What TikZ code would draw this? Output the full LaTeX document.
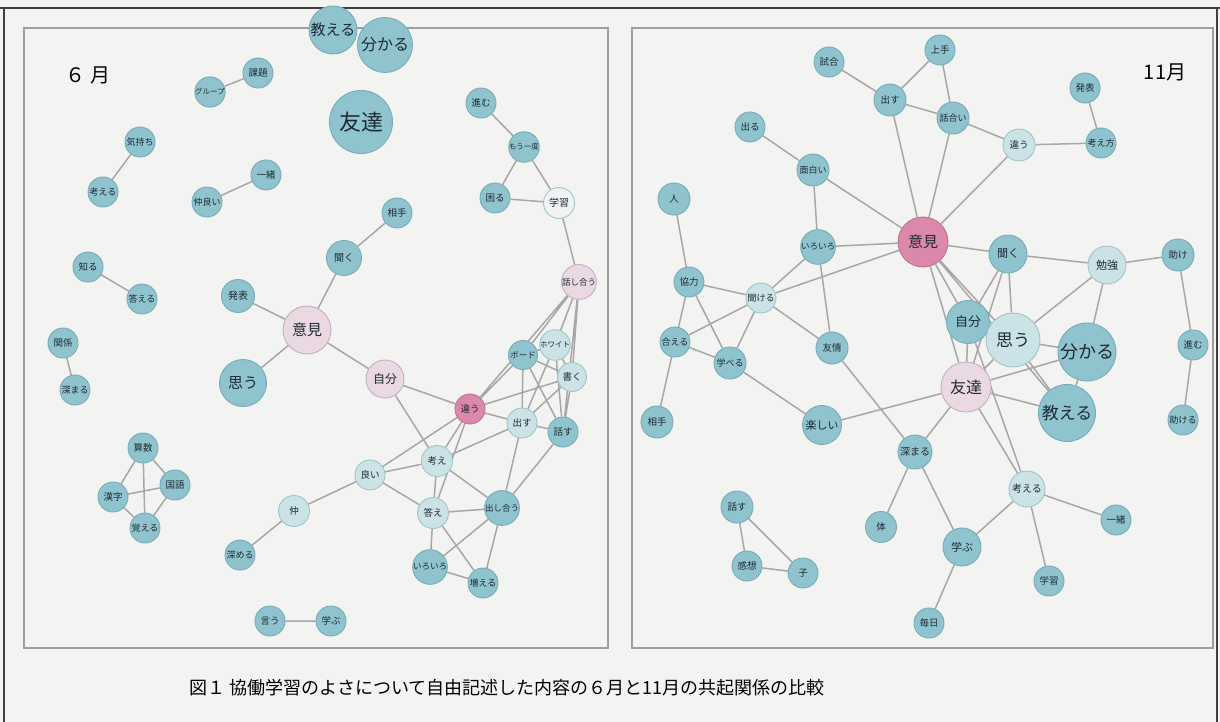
\documentclass[tikz,border=0pt]{standalone}
\usepackage{fontspec}
\setmainfont{Noto Sans CJK JP}
\pgfdeclarelayer{bg}
\pgfdeclarelayer{edges}
\pgfsetlayers{bg,edges,main}
\definecolor{paper}{RGB}{243,243,241}
\definecolor{tealf}{RGB}{143,196,206}
\definecolor{teald}{RGB}{118,172,183}
\definecolor{lightf}{RGB}{203,226,230}
\definecolor{lightd}{RGB}{160,196,203}
\definecolor{lpinkf}{RGB}{234,216,226}
\definecolor{lpinkd}{RGB}{196,176,188}
\definecolor{pinkf}{RGB}{220,136,170}
\definecolor{pinkd}{RGB}{186,116,148}
\definecolor{whitef}{RGB}{240,243,243}
\definecolor{edgec}{RGB}{168,166,166}
\definecolor{framec}{RGB}{158,158,158}
\definecolor{txt}{RGB}{30,42,52}
\tikzset{
  nd/.style={circle, inner sep=0pt, line width=0.9pt, text=txt, minimum size=30pt, font=\fontsize{9.5}{9.5}\selectfont},
  tl/.style={nd, fill=tealf, draw=teald},
  lt/.style={nd, fill=lightf, draw=lightd},
  lp/.style={nd, fill=lpinkf, draw=lpinkd},
  pk/.style={nd, fill=pinkf, draw=pinkd},
  wt/.style={nd, fill=whitef, draw=lightd},
  sz/.style={minimum size=#1pt},
  fs/.style={font=\fontsize{#1}{#1}\selectfont},
  ed/.style={draw=edgec, line width=1.5pt},
  panel/.style={draw=framec, line width=1.6pt},
}
\begin{document}
\begin{tikzpicture}[x=1pt,y=-1pt]
\useasboundingbox (0,0) rectangle (1220,722);
\begin{pgfonlayer}{bg}
\fill[paper] (0,0) rectangle (1220,722);
\draw[panel] (24,28) rectangle (608,648);
\draw[panel] (632,28) rectangle (1213,648);
\draw[black!75, line width=1.5pt] (0,8) -- (1220,8);
\draw[black!75, line width=1.5pt] (4,8) -- (4,722);
\draw[black!75, line width=1.5pt] (1217,8) -- (1217,722);
\end{pgfonlayer}

% labels
\node[fs=20, text=black] (lab6) at (88,75) {６ 月};
\node[fs=20, text=black] (lab11) at (1165,72) {11月};
\node[fs=18, text=black] (cap) at (507,688) {図１ 協働学習のよさについて自由記述した内容の６月と11月の共起関係の比較};

% ===== left panel =====
\node[tl] (Lkadai) at (258,73) {課題};
\node[tl, fs=7.5] (Lgroup) at (210,92) {グループ};
\node[tl, fs=9] (Lkimochi) at (140,142) {気持ち};
\node[tl, fs=9] (Lkangaeru) at (103,192) {考える};
\node[tl] (Lissho) at (266,175) {一緒};
\node[tl, fs=9] (Lnakayoi) at (207,202) {仲良い};
\node[tl, sz=48, fs=15] (Loshieru) at (333,30) {教える};
\node[tl, sz=55, fs=16] (Lwakaru) at (385,45) {分かる};
\node[tl, sz=63, fs=22] (Ltomodachi) at (361,122) {友達};
\node[tl] (Lsusumu) at (481,103) {進む};
\node[tl, fs=7.5] (Lmouichido) at (524,147) {もう一度};
\node[tl] (Lkomaru) at (495,198) {困る};
\node[wt, sz=31, fs=10] (Lgakushu) at (559,203) {学習};
\node[lp, sz=31, fs=8.5] (Lhanashiau) at (579,282) {話し合う};
\node[tl] (Laite) at (397,213) {相手};
\node[tl, sz=35, fs=10] (Lkiku) at (344,258) {聞く};
\node[tl] (Lshiru) at (88,267) {知る};
\node[tl, fs=9] (Lkotaeru) at (142,299) {答える};
\node[tl] (Lkankei) at (63,343) {関係};
\node[tl, fs=9] (Lfukamaru) at (75,390) {深まる};
\node[tl, sz=33, fs=10] (Lhappyo) at (238,296) {発表};
\node[lp, sz=48, fs=15] (Liken) at (307,330) {意見};
\node[tl, sz=47, fs=15] (Lomou) at (243,383) {思う};
\node[lp, sz=38, fs=12] (Ljibun) at (385,379) {自分};
\node[pk] (Lchigau) at (470,409) {違う};
\node[tl, sz=29, fs=8.5] (Lboard) at (523,355) {ボード};
\node[lt, sz=29, fs=7.5] (Lwhite) at (555,345) {ホワイト};
\node[lt, sz=29] (Lkaku) at (572,377) {書く};
\node[lt, sz=30] (Ldasu) at (522,423) {出す};
\node[tl, sz=30] (Lhanasu) at (563,432) {話す};
\node[lt, sz=31] (Lkangae) at (437,461) {考え};
\node[lt, sz=30] (Lyoi) at (370,475) {良い};
\node[lt, sz=31] (Lkotae) at (433,513) {答え};
\node[tl, sz=31, fs=8.5] (Ldashiau) at (502,508) {出し合う};
\node[lt, sz=31] (Lnaka) at (294,511) {仲};
\node[tl, fs=9] (Lfukameru) at (240,555) {深める};
\node[tl, fs=8.5] (Liroiro) at (430,567) {いろいろ};
\node[tl, fs=9] (Lfueru) at (483,583) {増える};
\node[tl] (Lsansu) at (143,448) {算数};
\node[tl] (Lkokugo) at (175,485) {国語};
\node[tl] (Lkanji) at (113,497) {漢字};
\node[tl, fs=9] (Loboeru) at (145,528) {覚える};
\node[tl] (Liu) at (270,621) {言う};
\node[tl] (Lmanabu) at (331,621) {学ぶ};

% ===== right panel =====
\node[tl] (Rshiai) at (829,62) {試合};
\node[tl, sz=32] (Rdasu) at (890,100) {出す};
\node[tl] (Rjozu) at (940,50) {上手};
\node[tl, sz=32, fs=9] (Rhanashiai) at (953,118) {話合い};
\node[lt, sz=32] (Rchigau) at (1019,145) {違う};
\node[tl] (Rhappyo) at (1085,88) {発表};
\node[tl, fs=9] (Rkangaekata) at (1101,143) {考え方};
\node[tl] (Rderu) at (750,127) {出る};
\node[tl, sz=32, fs=9] (Romoshiroi) at (813,170) {面白い};
\node[tl, sz=32] (Rhito) at (674,199) {人};
\node[pk, sz=50, fs=15] (Riken) at (923,242) {意見};
\node[tl, fs=8.5] (Riroiro) at (818,247) {いろいろ};
\node[tl] (Rkyoryoku) at (689,282) {協力};
\node[lt, fs=9] (Rkikeru) at (761,298) {聞ける};
\node[tl, fs=9] (Raeru) at (675,342) {合える};
\node[tl, sz=32, fs=9] (Rmanaberu) at (730,363) {学べる};
\node[tl, sz=32] (Ryujo) at (832,348) {友情};
\node[tl, sz=32] (Raite) at (657,422) {相手};
\node[tl, sz=39, fs=11] (Rtanoshii) at (822,425) {楽しい};
\node[tl, sz=38, fs=11] (Rkiku) at (1008,254) {聞く};
\node[lt, sz=38, fs=11] (Rbenkyo) at (1107,265) {勉強};
\node[tl, sz=32] (Rtasuke) at (1178,255) {助け};
\node[tl, sz=43, fs=13] (Rjibun) at (968,322) {自分};
\node[lt, sz=54, fs=17] (Romou) at (1013,340) {思う};
\node[tl, sz=58, fs=18] (Rwakaru) at (1087,352) {分かる};
\node[lp, sz=50, fs=16] (Rtomodachi) at (966,387) {友達};
\node[tl, sz=57, fs=17] (Roshieru) at (1067,413) {教える};
\node[tl] (Rsusumu) at (1193,345) {進む};
\node[tl, fs=9] (Rtasukeru) at (1183,420) {助ける};
\node[tl, sz=34, fs=10] (Rfukamaru) at (915,452) {深まる};
\node[lt, sz=36, fs=10] (Rkangaeru) at (1027,489) {考える};
\node[tl] (Rissho) at (1116,520) {一緒};
\node[tl, sz=38, fs=11] (Rmanabu) at (962,547) {学ぶ};
\node[tl] (Rgakushu) at (1049,581) {学習};
\node[tl] (Rmainichi) at (929,623) {毎日};
\node[tl, sz=31] (Rkarada) at (881,527) {体};
\node[tl, sz=32] (Rhanasu) at (737,507) {話す};
\node[tl] (Rkanso) at (747,566) {感想};
\node[tl] (Rko) at (803,573) {子};

\begin{pgfonlayer}{edges}
% left
\draw[ed] (Lgroup)--(Lkadai) (Lkimochi)--(Lkangaeru) (Lnakayoi)--(Lissho)
  (Lshiru)--(Lkotaeru) (Lkankei)--(Lfukamaru)
  (Lsansu)--(Lkokugo) (Lsansu)--(Lkanji) (Lsansu)--(Loboeru)
  (Lkanji)--(Lkokugo) (Lkanji)--(Loboeru) (Lkokugo)--(Loboeru)
  (Liu)--(Lmanabu)
  (Lsusumu)--(Lmouichido) (Lmouichido)--(Lkomaru) (Lmouichido)--(Lgakushu)
  (Lkomaru)--(Lgakushu) (Lgakushu)--(Lhanashiau)
  (Laite)--(Lkiku) (Lkiku)--(Liken) (Lhappyo)--(Liken) (Liken)--(Lomou) (Liken)--(Ljibun)
  (Ljibun)--(Lchigau) (Ljibun)--(Lkangae)
  (Lchigau)--(Lboard) (Lchigau)--(Lkaku) (Lchigau)--(Ldasu) (Lchigau)--(Lkangae)
  (Lchigau)--(Lkotae) (Lchigau)--(Lyoi)
  (Lhanashiau)--(Lboard) (Lhanashiau)--(Lwhite) (Lhanashiau)--(Lkaku)
  (Lhanashiau)--(Lhanasu) (Lhanashiau)--(Lchigau)
  (Lboard)--(Lwhite) (Lboard)--(Lkaku) (Lboard)--(Ldasu) (Lboard)--(Lhanasu)
  (Lwhite)--(Lkaku) (Lwhite)--(Ldasu) (Lwhite)--(Lhanasu)
  (Lkaku)--(Ldasu) (Lkaku)--(Lhanasu)
  (Ldasu)--(Lhanasu) (Ldasu)--(Lkangae) (Ldasu)--(Ldashiau)
  (Lhanasu)--(Ldashiau)
  (Lkangae)--(Lyoi) (Lkangae)--(Lkotae) (Lkangae)--(Ldashiau)
  (Lyoi)--(Lkotae) (Lyoi)--(Lnaka) (Lnaka)--(Lfukameru)
  (Lkotae)--(Ldashiau) (Lkotae)--(Liroiro) (Lkotae)--(Lfueru)
  (Ldashiau)--(Liroiro) (Ldashiau)--(Lfueru) (Liroiro)--(Lfueru);
% right
\draw[ed] (Rshiai)--(Rdasu) (Rdasu)--(Rjozu) (Rdasu)--(Rhanashiai) (Rdasu)--(Riken)
  (Rjozu)--(Rhanashiai) (Rhanashiai)--(Rchigau) (Rhanashiai)--(Riken)
  (Rchigau)--(Rkangaekata) (Rchigau)--(Riken) (Rhappyo)--(Rkangaekata)
  (Rderu)--(Romoshiroi) (Romoshiroi)--(Riroiro) (Romoshiroi)--(Riken)
  (Rhito)--(Rkyoryoku)
  (Riroiro)--(Riken) (Riroiro)--(Rkikeru) (Riroiro)--(Ryujo)
  (Rkyoryoku)--(Rkikeru) (Rkyoryoku)--(Raeru) (Rkyoryoku)--(Rmanaberu)
  (Rkikeru)--(Riken) (Rkikeru)--(Raeru) (Rkikeru)--(Rmanaberu) (Rkikeru)--(Ryujo)
  (Raeru)--(Rmanaberu) (Raeru)--(Raite) (Rmanaberu)--(Rtanoshii)
  (Ryujo)--(Rfukamaru) (Rtanoshii)--(Rtomodachi)
  (Riken)--(Rkiku) (Riken)--(Rjibun) (Riken)--(Romou) (Riken)--(Rtomodachi)
  (Riken)--(Roshieru)
  (Rkiku)--(Rbenkyo) (Rkiku)--(Rjibun) (Rkiku)--(Romou) (Rkiku)--(Rtomodachi)
  (Rbenkyo)--(Rtasuke) (Rbenkyo)--(Romou) (Rbenkyo)--(Rwakaru)
  (Rtasuke)--(Rsusumu) (Rsusumu)--(Rtasukeru)
  (Rjibun)--(Rtomodachi) (Rjibun)--(Romou)
  (Romou)--(Rtomodachi) (Romou)--(Rwakaru) (Romou)--(Roshieru)
  (Rwakaru)--(Rtomodachi) (Rwakaru)--(Roshieru) (Rtomodachi)--(Roshieru)
  (Rtomodachi)--(Rfukamaru) (Rtomodachi)--(Rkangaeru) (Rjibun)--(Rkangaeru)
  (Rfukamaru)--(Rmanabu) (Rfukamaru)--(Rkarada)
  (Rkangaeru)--(Rmanabu) (Rkangaeru)--(Rissho) (Rkangaeru)--(Rgakushu)
  (Rmanabu)--(Rmainichi)
  (Rhanasu)--(Rkanso) (Rhanasu)--(Rko) (Rkanso)--(Rko);
\end{pgfonlayer}
\end{tikzpicture}
\end{document}
